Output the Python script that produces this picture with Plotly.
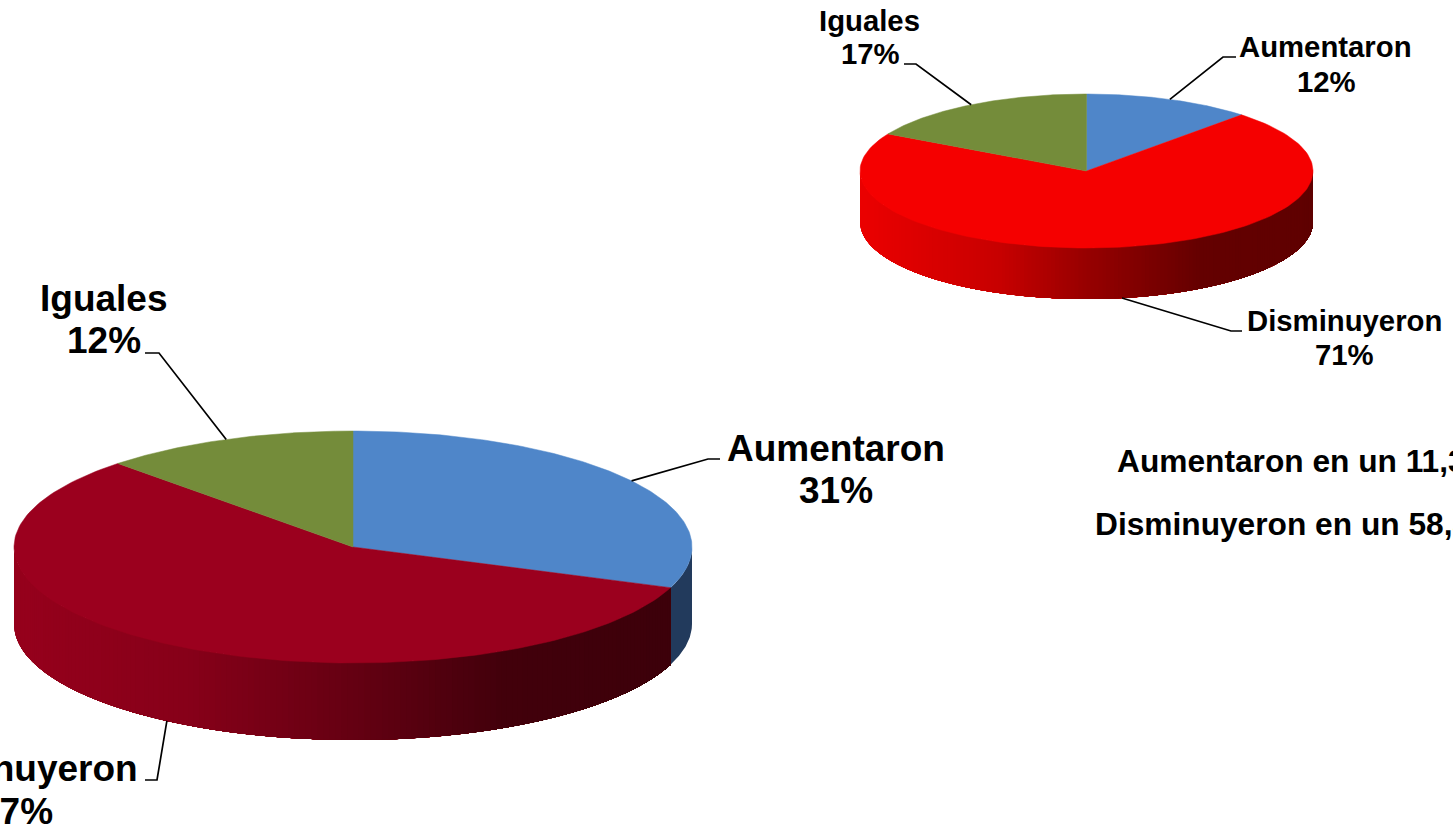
import numpy as np
import plotly.graph_objects as go

categories = ["Aumentaron", "Disminuyeron", "Iguales"]
values_large = [30.7, 57.1, 12.2]
values_small = [12, 71, 17]
notes = ["Aumentaron en un 11,3%", "Disminuyeron en un 58,3%"]

W, H = 1453, 825
FONT = "Liberation Sans"


def mix(stops, t):
    ts = [s[0] for s in stops]
    chan = [np.interp(t, ts, [s[1][i] for s in stops]) for i in range(3)]
    return "rgb(%d,%d,%d)" % tuple(round(c) for c in chan)


pies = [
    dict(values=values_large, cx=353, cy=547, rx=339, ry=116, depth=77,
         top=["#4F86C9", "#9B001E", "#748C3A"], blue_side="#223A5C",
         grad=[(0, (150, 0, 28)), (.25, (135, 0, 25)), (.5, (100, 0, 18)),
               (.72, (66, 0, 11)), (1, (60, 0, 10))],
         elbows=[[(708, 459), (720, 459)], [(157, 780), (145, 780)], [(159, 353), (145, 353)]]),
    dict(values=values_small, cx=1086.5, cy=171, rx=226.5, ry=77, depth=51,
         top=["#4F86C9", "#F50000", "#748C3A"], blue_side="#223A5C",
         grad=[(0, (235, 0, 0)), (.3, (200, 0, 0)), (.5, (150, 0, 0)),
               (.75, (100, 0, 0)), (1, (95, 0, 0))],
         elbows=[[(1223, 57), (1236, 57)], [(1231, 331), (1242, 331)], [(916, 64), (904, 64)]]),
]

fig = go.Figure()


def ex(p, a):
    return p["cx"] + p["rx"] * np.sin(np.radians(a))


def ey(p, a):
    return p["cy"] - p["ry"] * np.cos(np.radians(a))


def poly(x, y, color, lw=0.0):
    fig.add_trace(go.Scatter(x=list(x), y=list(y), mode="lines", fill="toself",
                             fillcolor=color, line=dict(color=color, width=lw),
                             hoverinfo="skip", showlegend=False))


for p in pies:
    cum = np.cumsum([0] + p["values"]) * 3.6
    # side wall: only the near half of the rim (90..270 degrees) is visible
    for i in range(3):
        a0, a1 = max(cum[i], 90), min(cum[i + 1], 270)
        if a1 <= a0:
            continue
        if i != 1:
            a = np.linspace(a0, a1, 40)
            poly(np.r_[ex(p, a), ex(p, a)[::-1]], np.r_[ey(p, a), ey(p, a)[::-1] + p["depth"]],
                 p["blue_side"])
            continue
        # painter's algorithm from the left end: each step repaints the rest of the wall
        for start in np.arange(a1, a0, -1.0):
            a = np.linspace(a0, start, max(2, int(start - a0) + 2))
            xs, ys = ex(p, a), ey(p, a)
            t = (ex(p, start) - (p["cx"] - p["rx"])) / (2 * p["rx"])
            poly(np.r_[xs, xs[::-1]], np.r_[ys, ys[::-1] + p["depth"]], mix(p["grad"], t))
    # top face
    for i in range(3):
        a = np.linspace(cum[i], cum[i + 1], 150)
        poly(np.r_[p["cx"], ex(p, a), p["cx"]], np.r_[p["cy"], ey(p, a), p["cy"]], p["top"][i], 0.5)
    # leader lines from the rim at each slice's mid angle
    for i in range(3):
        mid = (cum[i] + cum[i + 1]) / 2
        x0, y0 = ex(p, mid), ey(p, mid)
        if 90 < mid < 270:
            y0 += p["depth"]
        pts = p["elbows"][i]
        fig.add_trace(go.Scatter(x=[x0] + [q[0] for q in pts], y=[y0] + [q[1] for q in pts],
                                 mode="lines", line=dict(color="black", width=1.7),
                                 hoverinfo="skip", showlegend=False))


def label(text, x, y, size, anchor="center"):
    fig.add_annotation(x=x, y=y, xref="x", yref="y", text="<b>%s</b>" % text, showarrow=False,
                       xanchor=anchor, yanchor="middle",
                       font=dict(family=FONT, size=size, color="black"))


def pct(v):
    return "%d%%" % round(v)


BIG, SMALL = 37, 29.3
label(categories[0], 835.5, 448, BIG)
label(pct(values_large[0]), 836, 490, BIG)
label(categories[2], 103.5, 298, BIG)
label(pct(values_large[2]), 104, 340, BIG)
label(categories[1], 140, 768, BIG, "right")
label(pct(values_large[1]), 55, 811, BIG, "right")

label(categories[0], 1325.5, 46, SMALL)
label(pct(values_small[0]), 1326, 81, SMALL)
label(categories[2], 869.5, 20, SMALL)
label(pct(values_small[2]), 870, 53, SMALL)
label(categories[1], 1344.5, 320, SMALL)
label(pct(values_small[1]), 1344.5, 354, SMALL)

label(notes[0], 1115, 461, 31.7, "left")
label(notes[1], 1093, 524, 31.7, "left")

fig.update_layout(
    width=W, height=H, margin=dict(l=0, r=0, t=0, b=0),
    paper_bgcolor="white", plot_bgcolor="white", showlegend=False,
    xaxis=dict(range=[0, W], visible=False, fixedrange=True),
    yaxis=dict(range=[H, 0], visible=False, fixedrange=True),
)
fig.write_html("out.html", config={"displayModeBar": False},
               post_script="document.body.style.margin='0';document.body.style.overflow='hidden';")
